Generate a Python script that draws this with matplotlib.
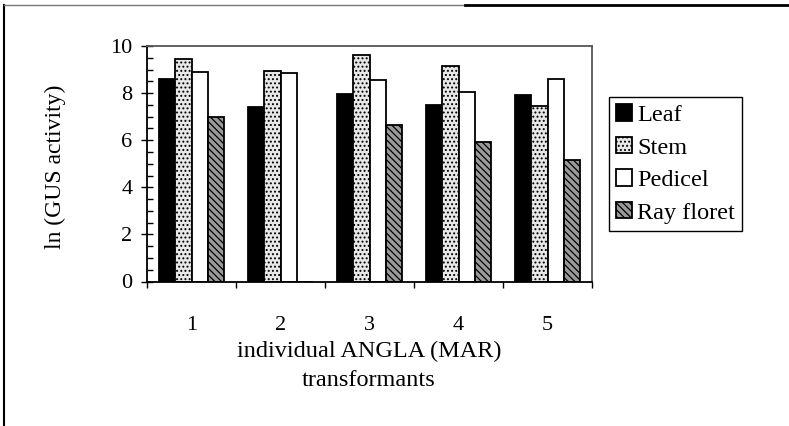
import numpy as np
import matplotlib
matplotlib.use("Agg")
import matplotlib.pyplot as plt
from matplotlib.lines import Line2D
from matplotlib.ticker import MultipleLocator

transformants = ["1", "2", "3", "4", "5"]
tissues = ["Leaf", "Stem", "Pedicel", "Ray floret"]
leaf = [8.58, 7.39, 7.95, 7.50, 7.94]
stem = [9.43, 8.95, 9.60, 9.15, 7.45]
pedicel = [8.91, 8.87, 8.54, 8.05, 8.60]
ray_floret = [6.97, 0.0, 6.65, 5.93, 5.15]

plt.rcParams['font.family'] = ['Liberation Serif', 'DejaVu Serif']
plt.rcParams['hatch.linewidth'] = 0.9

fig = plt.figure(figsize=(7.89, 4.26), dpi=100)
ax = fig.add_axes([147/789, 1 - 281.5/426, 445/789, 235.5/426])

x = np.arange(len(transformants))
w = 0.18
styles = [
    dict(color="black", hatch=None),
    dict(color="#e8e8e8", hatch="...."),
    dict(color="white", hatch=None),
    dict(color="#9a9a9a", hatch="\\\\\\\\\\"),
]
series = [leaf, stem, pedicel, ray_floret]
for i, (vals, st, name) in enumerate(zip(series, styles, tissues)):
    ax.bar(x + (i - 1.5) * w, vals, w, facecolor=st["color"], hatch=st["hatch"],
           edgecolor="black", linewidth=1.3, label=name, zorder=2)

ax.set_xlim(-0.5, 4.5)
ax.set_ylim(0, 10)
ax.yaxis.set_major_locator(MultipleLocator(2))
ax.yaxis.set_minor_locator(MultipleLocator(0.5))
ax.tick_params(axis="y", which="major", direction="inout", length=9, width=1,
               labelsize=16, pad=6)
ax.tick_params(axis="y", which="minor", direction="in", length=4.5, width=1)

ax.set_xticks(np.arange(-0.5, 5, 1))
ax.set_xticklabels([])
ax.set_xticks(x, minor=True)
ax.set_xticklabels(transformants, minor=True)
ax.tick_params(axis="x", which="major", direction="out", length=4, width=1)
ax.tick_params(axis="x", which="minor", length=0, labelsize=16, pad=25)

for s in ["left", "bottom"]:
    ax.spines[s].set_linewidth(1.3)
for s in ["top", "right"]:
    ax.spines[s].set_linestyle((0, (1, 1)))
    ax.spines[s].set_linewidth(1.3)
    ax.spines[s].set_color("#555555")

fig.text(55/789, 1 - 167/426, "ln (GUS activity)", rotation=90,
         ha="center", va="center", fontsize=17)
fig.text(369/789, 1 - 366/426, "individual ANGLA (MAR)\ntransformants",
         ha="center", va="center", fontsize=17.5, linespacing=1.5)

fig.legend(loc="upper left", bbox_to_anchor=(609/789, 1 - 97/426),
           fancybox=False, edgecolor="black", framealpha=1, fontsize=17.5,
           handlelength=0.65, handleheight=0.65, handletextpad=0.2,
           borderpad=0.3, labelspacing=0.45, borderaxespad=0)

# outer frame of the scanned figure
fig.add_artist(Line2D([4/789, 4/789], [0, 1 - 5/426], transform=fig.transFigure,
                      color="black", linewidth=1.5))
fig.add_artist(Line2D([4/789, 465/789], [1 - 5/426, 1 - 5/426],
                      transform=fig.transFigure, color="#777777", linewidth=1))
fig.add_artist(Line2D([465/789, 1], [1 - 5/426, 1 - 5/426],
                      transform=fig.transFigure, color="black", linewidth=2))

fig.savefig("out.png", dpi=100)
